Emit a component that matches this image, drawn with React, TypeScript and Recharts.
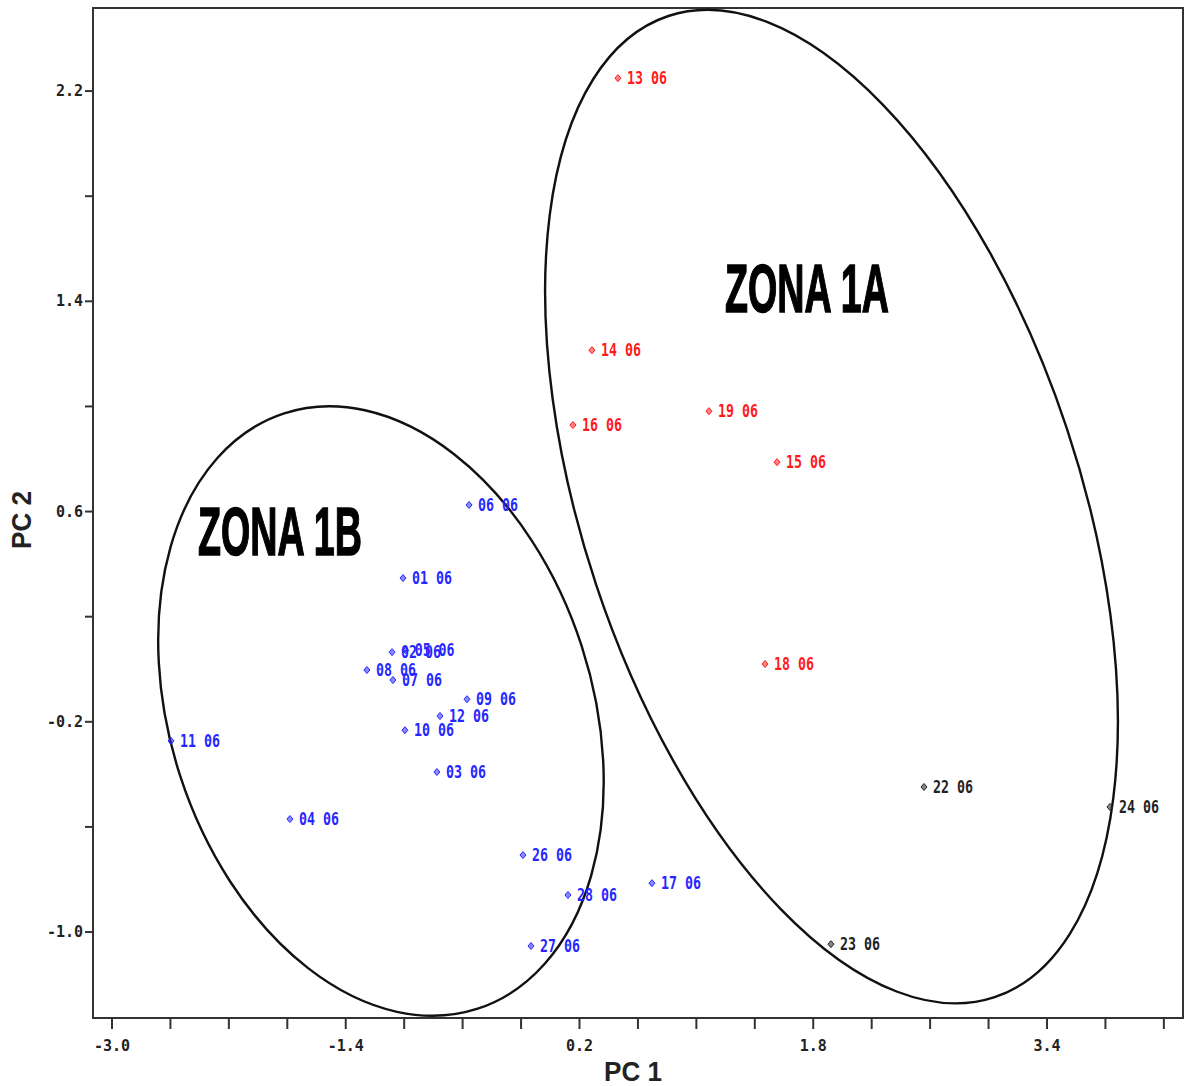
import { Label, ReferenceArea, Scatter, ScatterChart, XAxis, YAxis } from 'recharts'

// PC scores
const redLabels = ['13 06', '14 06', '19 06', '16 06', '15 06', '18 06']
const redX = [0.463, 0.285, 1.086, 0.155, 1.552, 1.47]
const redY = [2.249, 1.214, 0.982, 0.929, 0.788, 0.02]

const blackLabels = ['22 06', '24 06', '23 06']
const blackX = [2.558, 3.831, 1.921]
const blackY = [-0.448, -0.524, -1.046]

const blueLabels = [
  '06 06', '01 06', '08 06', '02 06', '05 06', '07 06', '09 06', '12 06',
  '10 06', '11 06', '03 06', '04 06', '26 06', '28 06', '17 06', '27 06',
]
const blueX = [
  -0.556, -1.008, -1.255, -1.083, -0.99, -1.077, -0.57, -0.755,
  -0.995, -2.596, -0.776, -1.782, -0.187, 0.121, 0.696, -0.132,
]
const blueY = [
  0.625, 0.347, -0.003, 0.065, 0.072, -0.041, -0.114, -0.178,
  -0.232, -0.273, -0.391, -0.57, -0.707, -0.859, -0.814, -1.053,
]

// zone ellipses (centres) and titles
const zoneNames = ['ZONA 1B', 'ZONA 1A']
const zoneCenterX = [-1.159, 1.925]
const zoneCenterY = [-0.159, 0.619]
const zoneTitleX = [-1.85, 1.757]
const zoneTitleY = [0.434, 1.359]

const xTicks = [-3.0, -2.6, -2.2, -1.8, -1.4, -1.0, -0.6, -0.2, 0.2, 0.6, 1.0, 1.4, 1.8, 2.2, 2.6, 3.0, 3.4, 3.8, 4.2]
const xMajor = [-3.0, -1.4, 0.2, 1.8, 3.4]
const yTicks = [-1.0, -0.6, -0.2, 0.2, 0.6, 1.0, 1.4, 1.8, 2.2]
const yMajor = [-1.0, -0.2, 0.6, 1.4, 2.2]

const xDomain = [-3.13, 4.331]
const yDomain = [-1.327, 2.516]

const zip = (labels: string[], xs: number[], ys: number[]) =>
  labels.map((label, i) => ({ label, x: xs[i], y: ys[i] }))

const redData = zip(redLabels, redX, redY)
const blackData = zip(blackLabels, blackX, blackY)
const blueData = zip(blueLabels, blueX, blueY)
const zoneData = zip(zoneNames, zoneCenterX, zoneCenterY)
const zoneTitleData = zip(zoneNames, zoneTitleX, zoneTitleY)

const ellipseStyle: Record<string, { rx: number; ry: number; angle: number }> = {
  'ZONA 1B': { rx: 313, ry: 211, angle: 72 },
  'ZONA 1A': { rx: 517, ry: 248, angle: 71.6 },
}

const monoFont = "'DejaVu Sans Mono', monospace"
const isMajor = (v: number, list: number[]) => list.some((m) => Math.abs(m - v) < 1e-6)

const pointShape = (color: string) => (props: any) => {
  const { cx, cy, payload } = props
  return (
    <g>
      <polygon
        points={`${cx},${cy - 3.5} ${cx + 3},${cy} ${cx},${cy + 3.5} ${cx - 3},${cy}`}
        fill={color}
        fillOpacity={0.55}
        stroke={color}
        strokeWidth={1}
      />
      <text
        x={cx + 9}
        y={cy + 6}
        fill={color}
        fontFamily={monoFont}
        fontWeight="bold"
        fontSize={17}
        textLength={40}
        lengthAdjust="spacingAndGlyphs"
      >
        {payload.label}
      </text>
    </g>
  )
}

const ellipseShape = (props: any) => {
  const { cx, cy, payload } = props
  const s = ellipseStyle[payload.label]
  return (
    <ellipse
      cx={cx}
      cy={cy}
      rx={s.rx}
      ry={s.ry}
      transform={`rotate(${s.angle} ${cx} ${cy})`}
      fill="none"
      stroke="#111"
      strokeWidth={2.4}
    />
  )
}

const zoneTitleShape = (props: any) => {
  const { cx, cy, payload } = props
  return (
    <text
      x={cx}
      y={cy}
      textAnchor="middle"
      fill="#000"
      stroke="#000"
      strokeWidth={1.5}
      fontFamily="'Liberation Sans Narrow', 'Liberation Sans', Arial, sans-serif"
      fontWeight="bold"
      fontSize={68}
      textLength={164}
      lengthAdjust="spacingAndGlyphs"
    >
      {payload.label}
    </text>
  )
}

const XTick = (props: any) => {
  const { x, y, payload } = props
  if (!isMajor(payload.value, xMajor)) return <g />
  return (
    <text x={x} y={y + 20} textAnchor="middle" fill="#222" fontFamily={monoFont} fontWeight="bold" fontSize={15}>
      {payload.value.toFixed(1)}
    </text>
  )
}

const YTick = (props: any) => {
  const { x, y, payload } = props
  if (!isMajor(payload.value, yMajor)) return <g />
  return (
    <text x={x} y={y + 5} textAnchor="end" fill="#222" fontFamily={monoFont} fontWeight="bold" fontSize={15}>
      {payload.value.toFixed(1)}
    </text>
  )
}

const XTitle = (props: any) => {
  const { viewBox } = props
  const cx = viewBox.x + viewBox.width / 2 - 5
  return (
    <text
      x={cx}
      y={viewBox.y + 63}
      textAnchor="middle"
      fill="#222"
      fontFamily="'Liberation Sans Narrow', 'Liberation Sans', Arial, sans-serif"
      fontWeight="bold"
      fontSize={27}
      textLength={58}
      lengthAdjust="spacingAndGlyphs"
    >
      PC 1
    </text>
  )
}

const YTitle = (props: any) => {
  const { viewBox } = props
  const cx = 22
  const cy = viewBox.y + viewBox.height / 2 + 7
  return (
    <text
      x={cx}
      y={cy}
      transform={`rotate(-90 ${cx} ${cy})`}
      textAnchor="middle"
      dominantBaseline="central"
      fill="#222"
      fontFamily="'Liberation Sans Narrow', 'Liberation Sans', Arial, sans-serif"
      fontWeight="bold"
      fontSize={27}
      textLength={58}
      lengthAdjust="spacingAndGlyphs"
    >
      PC 2
    </text>
  )
}

export default function App() {
  return (
    <div style={{ position: 'absolute', left: 0, top: 0, background: '#fff' }}>
      <ScatterChart width={1186} height={1086} margin={{ top: 8, right: 3, left: 0, bottom: 0 }}>
        <XAxis
          type="number"
          dataKey="x"
          domain={xDomain}
          ticks={xTicks}
          allowDataOverflow
          height={68}
          tickSize={11}
          tick={<XTick />}
          stroke="#333"
          strokeWidth={2}
        >
          <Label content={<XTitle />} />
        </XAxis>
        <YAxis
          type="number"
          dataKey="y"
          domain={yDomain}
          ticks={yTicks}
          allowDataOverflow
          width={93}
          tickSize={8}
          tick={<YTick />}
          stroke="#333"
          strokeWidth={2}
        >
          <Label content={<YTitle />} />
        </YAxis>
        <ReferenceArea
          x1={xDomain[0]}
          x2={xDomain[1]}
          y1={yDomain[0]}
          y2={yDomain[1]}
          fill="none"
          stroke="#333"
          strokeWidth={2}
        />
        <Scatter data={zoneData} shape={ellipseShape} isAnimationActive={false} />
        <Scatter data={zoneTitleData} shape={zoneTitleShape} isAnimationActive={false} />
        <Scatter data={redData} shape={pointShape('#ff1a1a')} isAnimationActive={false} />
        <Scatter data={blackData} shape={pointShape('#222')} isAnimationActive={false} />
        <Scatter data={blueData} shape={pointShape('#2626ff')} isAnimationActive={false} />
      </ScatterChart>
    </div>
  )
}
